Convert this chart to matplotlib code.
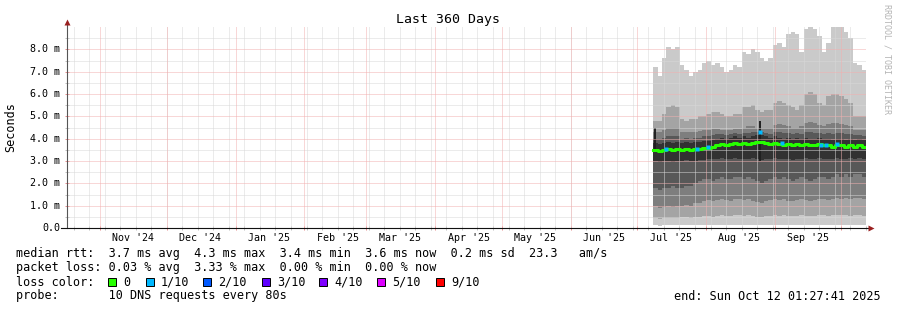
import matplotlib
matplotlib.use("Agg")
import matplotlib.pyplot as plt
import matplotlib.transforms as mtransforms
from matplotlib.patches import Rectangle
import numpy as np
import pandas as pd

plt.rcParams["lines.scale_dashes"] = False

# ---------------- data ----------------
end_time = "2025-10-12 01:27:41"
span_days = 360
data_start = "2025-07-08 04:00"

ping_10 = [7.2, 6.8, 7.6, 8.1, 8.0, 8.1, 7.3, 7.1, 6.8, 7.0,
           7.1, 7.4, 7.5, 7.3, 7.4, 7.2, 7.0, 7.1, 7.3, 7.2,
           7.9, 7.8, 8.0, 7.9, 7.6, 7.5, 7.6, 8.2, 8.3, 8.1,
           8.7, 8.8, 8.7, 7.9, 8.9, 9.0, 8.9, 8.6, 7.9, 8.3,
           9.0, 9.0, 9.0, 8.8, 8.5, 7.4, 7.3, 7.1]
ping_9 = [4.8, 4.8, 5.1, 5.4, 5.5, 5.4, 4.9, 4.8, 4.9, 4.9,
          5.0, 5.0, 5.1, 5.2, 5.2, 5.1, 5.0, 5.0, 5.1, 5.1,
          5.4, 5.4, 5.5, 5.3, 5.2, 5.3, 5.3, 5.6, 5.7, 5.6,
          5.5, 5.4, 5.3, 5.5, 6.0, 6.1, 6.0, 5.6, 5.5, 5.9,
          6.0, 6.0, 5.9, 5.8, 5.6, 5.0, 5.0, 5.0]
ping_8 = [4.3, 4.3, 4.4, 4.5, 4.5, 4.5, 4.3, 4.3, 4.3, 4.3,
          4.35, 4.4, 4.4, 4.45, 4.45, 4.4, 4.4, 4.4, 4.45, 4.45,
          4.5, 4.55, 4.55, 4.5, 4.5, 4.5, 4.5, 4.6, 4.65, 4.6,
          4.55, 4.5, 4.5, 4.55, 4.7, 4.75, 4.7, 4.6, 4.55, 4.65,
          4.7, 4.7, 4.65, 4.6, 4.55, 4.4, 4.4, 4.4]
ping_7 = [4.0, 4.0, 4.05, 4.1, 4.1, 4.1, 4.0, 4.05, 4.0, 4.05,
          4.05, 4.1, 4.1, 4.15, 4.2, 4.2, 4.15, 4.2, 4.25, 4.2,
          4.25, 4.25, 4.3, 4.3, 4.3, 4.25, 4.2, 4.3, 4.3, 4.25,
          4.25, 4.2, 4.25, 4.2, 4.3, 4.3, 4.25, 4.25, 4.2, 4.25,
          4.2, 4.25, 4.25, 4.2, 4.2, 4.15, 4.15, 4.1]
ping_6 = [3.8, 3.75, 3.8, 3.85, 3.8, 3.85, 3.8, 3.85, 3.8, 3.85,
          3.85, 3.9, 3.9, 3.95, 4.0, 4.05, 4.0, 4.05, 4.1, 4.05,
          4.1, 4.05, 4.1, 4.15, 4.15, 4.1, 4.05, 4.1, 4.05, 4.0,
          4.05, 4.0, 4.05, 4.0, 4.05, 4.0, 4.0, 4.05, 4.0, 4.0,
          3.95, 4.0, 4.0, 3.95, 4.0, 3.95, 4.0, 3.95]
median_rtt = [3.5, 3.45, 3.5, 3.55, 3.5, 3.55, 3.5, 3.55, 3.5, 3.55,
              3.55, 3.6, 3.6, 3.65, 3.7, 3.75, 3.7, 3.75, 3.8, 3.75,
              3.8, 3.75, 3.8, 3.85, 3.85, 3.8, 3.75, 3.8, 3.75, 3.7,
              3.75, 3.7, 3.75, 3.7, 3.75, 3.7, 3.7, 3.75, 3.7, 3.7,
              3.65, 3.7, 3.7, 3.65, 3.7, 3.65, 3.7, 3.65]
ping_5 = [3.0, 2.95, 3.0, 3.0, 2.95, 3.0, 3.0, 3.05, 3.0, 3.0,
          3.05, 3.05, 3.1, 3.1, 3.1, 3.15, 3.1, 3.1, 3.15, 3.1,
          3.1, 3.1, 3.15, 3.1, 3.05, 3.1, 3.1, 3.15, 3.1, 3.1,
          3.1, 3.05, 3.1, 3.1, 3.15, 3.1, 3.1, 3.15, 3.1, 3.1,
          3.1, 3.15, 3.1, 3.1, 3.15, 3.1, 3.15, 3.1]
ping_4 = [1.8, 1.7, 1.8, 1.8, 1.9, 1.8, 1.8, 1.9, 1.9, 2.0,
          2.1, 2.2, 2.2, 2.1, 2.2, 2.3, 2.2, 2.2, 2.3, 2.3,
          2.2, 2.3, 2.2, 2.1, 2.0, 2.1, 2.2, 2.3, 2.2, 2.3,
          2.2, 2.1, 2.2, 2.3, 2.2, 2.1, 2.2, 2.3, 2.3, 2.2,
          2.3, 2.4, 2.3, 2.4, 2.3, 2.4, 2.4, 2.3]
ping_3 = [1.0, 0.9, 0.95, 1.0, 0.95, 1.0, 1.0, 1.05, 1.0, 1.1,
          1.1, 1.2, 1.25, 1.2, 1.25, 1.3, 1.25, 1.2, 1.3, 1.3,
          1.25, 1.3, 1.2, 1.15, 1.1, 1.2, 1.25, 1.3, 1.25, 1.3,
          1.2, 1.2, 1.25, 1.3, 1.25, 1.2, 1.25, 1.3, 1.3, 1.25,
          1.3, 1.35, 1.3, 1.35, 1.3, 1.35, 1.35, 1.3]
ping_2 = [0.45, 0.4, 0.45, 0.45, 0.45, 0.45, 0.5, 0.5, 0.45, 0.5,
          0.5, 0.55, 0.55, 0.5, 0.55, 0.6, 0.55, 0.55, 0.6, 0.6,
          0.55, 0.6, 0.55, 0.5, 0.5, 0.55, 0.55, 0.6, 0.55, 0.6,
          0.55, 0.55, 0.55, 0.6, 0.55, 0.55, 0.55, 0.6, 0.6, 0.55,
          0.6, 0.6, 0.6, 0.6, 0.55, 0.6, 0.6, 0.55]
ping_1 = [0.12, 0.1, 0.12, 0.12, 0.12, 0.12, 0.13, 0.13, 0.12, 0.13,
          0.13, 0.14, 0.14, 0.13, 0.14, 0.15, 0.14, 0.14, 0.15, 0.15,
          0.14, 0.15, 0.14, 0.13, 0.13, 0.14, 0.14, 0.15, 0.14, 0.15,
          0.14, 0.14, 0.14, 0.15, 0.14, 0.14, 0.14, 0.15, 0.15, 0.14,
          0.15, 0.15, 0.15, 0.15, 0.14, 0.15, 0.15, 0.14]

# median points with 1/10 packet loss
loss_dates = ["2025-07-14 00:00", "2025-07-28 00:00", "2025-08-02 00:00", "2025-08-25 12:00",
              "2025-09-04 00:00", "2025-09-22 00:00", "2025-09-24 00:00", "2025-09-29 00:00"]
loss_values = [3.55, 3.55, 3.65, 4.3, 3.8, 3.7, 3.7, 3.75]

# single-step spikes of the inner smoke band
spike_dates = ["2025-07-08 20:00", "2025-08-25 12:00"]
spike_low = [3.5, 3.0]
spike_high = [4.5, 4.8]

month_labels = ["Nov '24", "Dec '24", "Jan '25", "Feb '25", "Mar '25", "Apr '25",
                "May '25", "Jun '25", "Jul '25", "Aug '25", "Sep '25"]
y_tick_values = [0, 1, 2, 3, 4, 5, 6, 7, 8]
y_tick_labels = ["0.0", "1.0 m", "2.0 m", "3.0 m", "4.0 m", "5.0 m",
                 "6.0 m", "7.0 m", "8.0 m"]
y_max = 9.0

title = "Last 360 Days"
y_label = "Seconds"
watermark = "RRDTOOL / TOBI OETIKER"
legend_median = "median rtt:  3.7 ms avg  4.3 ms max  3.4 ms min  3.6 ms now  0.2 ms sd  23.3   am/s"
legend_loss = "packet loss: 0.03 % avg  3.33 % max  0.00 % min  0.00 % now"
legend_color_title = "loss color:"
loss_color_labels = ["0", "1/10", "2/10", "3/10", "4/10", "5/10", "9/10"]
loss_color_values = ["#26ff00", "#00b8ff", "#0059ff", "#5e00ff", "#7e00ff", "#dd00ff", "#ff0000"]
probe_text = "probe:       10 DNS requests every 80s"
end_text = "end: Sun Oct 12 01:27:41 2025"

# ---------------- figure ----------------
W, H = 897, 310
MONO = ["DejaVu Sans Mono"]
fig = plt.figure(figsize=(W / 100, H / 100), dpi=100)
fig.patch.set_facecolor("white")

PL, PR, PT, PB = 67, 866, 27.1, 228
ax = fig.add_axes([PL / W, (H - PB) / H, (PR - PL) / W, (PB - PT) / H])
ax.set_facecolor("white")

t_end = pd.Timestamp(end_time)
t_start = t_end - pd.Timedelta(days=span_days)
ax.set_xlim(t_start, t_end)
ax.set_ylim(0, y_max)

edges = pd.date_range(pd.Timestamp(data_start), t_end, periods=len(median_rtt) + 1)

def ext(a):
    return list(a) + [a[-1]]

smoke_pairs = [(ping_1, ping_10), (ping_2, ping_9), (ping_3, ping_8),
               (ping_4, ping_7), (ping_5, ping_6)]
half = len(smoke_pairs)
for i, (lo, hi) in enumerate(smoke_pairs, start=1):
    g = int(190 / half * (half - i)) + 50
    col = "#%02x%02x%02x" % (g, g, g)
    ax.fill_between(edges, ext(lo), ext(hi), step="post", color=col, lw=0, zorder=1)

sp_d = pd.to_datetime(spike_dates, format="%Y-%m-%d %H:%M")
ax.vlines(sp_d, spike_low, spike_high, color="#202020", lw=1.4, zorder=2)

# grid (1px dotted)
months = pd.date_range("2024-11-01", t_end, freq="MS")
weeks = pd.date_range("2024-10-20", t_end, freq="7D")
grid_minor = "#d8d8d8"
grid_major = "#f2b0b0"
DOT = (0, (0.72, 0.72))
for w in weeks:
    ax.axvline(w, color=grid_minor, lw=0.72, ls=DOT, zorder=3)
for yv in np.arange(0.5, y_max, 1.0):
    ax.axhline(yv, color=grid_minor, lw=0.72, ls=DOT, zorder=3)
for m in months:
    ax.axvline(m, color=grid_major, lw=0.72, ls=DOT, zorder=3)
for yv in y_tick_values[1:]:
    ax.axhline(yv, color=grid_major, lw=0.72, ls=DOT, zorder=3)

# median line
ax.step(edges, ext(median_rtt), where="post", color=loss_color_values[0], lw=2.2, zorder=5)
ax.plot(pd.to_datetime(loss_dates, format="%Y-%m-%d %H:%M"), loss_values, ls="none",
        marker="s", ms=2.4, mec="none", color=loss_color_values[1], zorder=6)

# axes, ticks
for s in ax.spines.values():
    s.set_visible(False)
ax.set_xticks(months)
ax.set_xticks(weeks, minor=True)
ax.set_xticklabels([])
ax.set_yticks(y_tick_values)
ax.set_yticks(np.arange(0.5, y_max, 1.0), minor=True)
ax.set_yticklabels([])
ax.tick_params(which="major", direction="inout", length=3, width=0.72, color="#e89090")
ax.tick_params(which="minor", direction="inout", length=3, width=0.72, color="#c0c0c0")

axis_col = "#555555"
ax.plot([0, 0], [0, 1.01], transform=ax.transAxes, color=axis_col, lw=0.8,
        clip_on=False, zorder=7)
ax.plot([-6 / (PR - PL), 1.003], [0, 0], transform=ax.transAxes, color="#111111",
        lw=0.8, clip_on=False, zorder=7)
ax.plot([0], [1.025], transform=ax.transAxes, marker="^", ms=4.2, color="#9a2020",
        mec="none", clip_on=False, zorder=8)
ax.plot([1.006], [0], transform=ax.transAxes, marker=">", ms=4.2, color="#9a2020",
        mec="none", clip_on=False, zorder=8)

ytr = mtransforms.blended_transform_factory(ax.transAxes, ax.transData)
for v, lab in zip(y_tick_values, y_tick_labels):
    ax.text(-7 / (PR - PL), v, lab, transform=ytr, ha="right", va="center",
            family=MONO, fontsize=7.2, color="black")

xtr = mtransforms.blended_transform_factory(ax.transData, ax.transAxes)
label_dates = [m + pd.Timedelta(days=15) for m in months[:len(month_labels)]]
for d, lab in zip(label_dates, month_labels):
    ax.text(d, -10 / (PB - PT), lab, transform=xtr, ha="center", va="center",
            family=MONO, fontsize=7.2, color="black")

def fx(x):
    return x / W

def fy(y):
    return 1 - y / H

fig.text(fx(448), fy(19), title, ha="center", va="center", family=MONO, fontsize=9.5)
fig.text(fx(11), fy(127), y_label, ha="center", va="center", rotation=90,
         family=MONO, fontsize=8.5)
fig.text(fx(887), fy(4), watermark, ha="center", va="top", rotation=270,
         family=MONO, fontsize=6, color="#b4b4b4")

LX = 16
fig.text(fx(LX), fy(254), legend_median, ha="left", va="center", family=MONO, fontsize=8.5)
fig.text(fx(LX), fy(268), legend_loss, ha="left", va="center", family=MONO, fontsize=8.5)
fig.text(fx(LX), fy(282), legend_color_title, ha="left", va="center", family=MONO, fontsize=8.5)
sq_x = [108, 146, 203, 262, 319, 377, 436]
for x0, lab, col in zip(sq_x, loss_color_labels, loss_color_values):
    fig.add_artist(Rectangle((fx(x0), fy(286)), 8 / W, 8 / H, facecolor=col,
                             edgecolor="black", lw=0.7, transform=fig.transFigure))
    fig.text(fx(x0 + 15), fy(282), lab, ha="left", va="center", family=MONO, fontsize=8.5)
fig.text(fx(LX), fy(296), probe_text, ha="left", va="center", family=MONO, fontsize=8.5)
fig.text(fx(881), fy(296), end_text, ha="right", va="center", family=MONO, fontsize=8.5)

fig.savefig("out.png", dpi=100, facecolor="white")
